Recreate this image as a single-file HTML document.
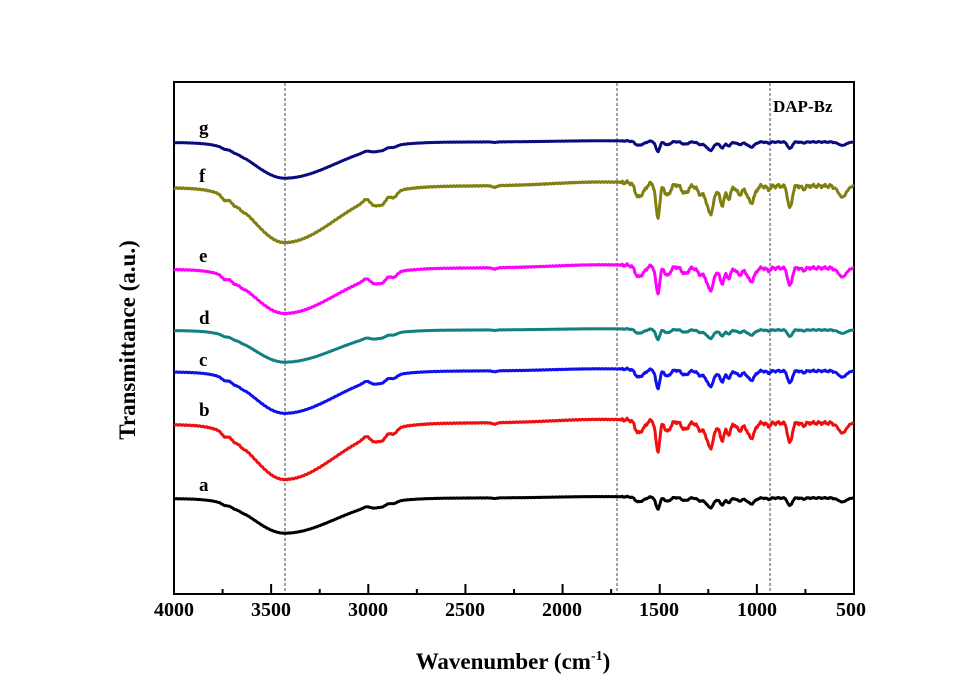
<!DOCTYPE html>
<html><head><meta charset="utf-8"><style>
html,body{margin:0;padding:0;background:#fff;}
svg text{font-family:"Liberation Serif",serif;font-weight:bold;}
</style></head><body>
<svg id="s" width="971" height="691" viewBox="0 0 971 691" xmlns="http://www.w3.org/2000/svg">
<rect x="174" y="82" width="680" height="512" fill="none" stroke="#000" stroke-width="2"/>
<g stroke="#444" stroke-width="1" stroke-dasharray="3,2">
<line x1="285" y1="83" x2="285" y2="593"/>
<line x1="617" y1="83" x2="617" y2="593"/>
<line x1="770" y1="83" x2="770" y2="593"/>
</g>
<g id="ticks" stroke="#000" stroke-width="2"></g>
<g id="curves" fill="none" stroke-width="3" stroke-linejoin="round"></g>
<g font-size="20" text-anchor="middle">
<text x="174" y="616">4000</text><text x="271" y="616">3500</text><text x="368" y="616">3000</text>
<text x="465" y="616">2500</text><text x="562" y="616">2000</text><text x="659" y="616">1500</text>
<text x="757" y="616">1000</text><text x="851" y="616">500</text>
</g>
<g font-size="19">
<text x="199" y="134">g</text><text x="199" y="182">f</text><text x="199" y="262">e</text>
<text x="199" y="324">d</text><text x="199" y="366">c</text><text x="199" y="416">b</text>
<text x="199" y="491">a</text>
<text x="773" y="112" font-size="17">DAP-Bz</text>
</g>
<text x="513" y="669" font-size="23" text-anchor="middle">Wavenumber (cm<tspan dy="-9" font-size="14">-1</tspan><tspan dy="9">)</tspan></text>
<text transform="translate(135,340) rotate(-90)" font-size="23" text-anchor="middle">Transmittance (a.u.)</text>
</svg>
<script>
var X=function(w){return 174+(4000-w)/3500*680;};
var t=document.getElementById('ticks'),h='';
for(var w=4000;w>=500;w-=250){var x=X(w),L=(w%500==0)?10:5;h+='<line x1="'+x+'" y1="594" x2="'+x+'" y2="'+(594-L)+'"/>';}
t.innerHTML=h;
var feats=[[3740,0.15,14],[3690,0.12,14],[3650,0.08,14],[3010,-0.1,15],[2965,0.28,22],[2925,0.3,18],[2870,0.22,18],[2350,0.06,12],
[1610,0.5,16],[1580,0.2,12],[1510,1.2,10],[1460,0.4,14],[1370,0.3,16],[1290,0.3,16],[1240,1.0,18],[1180,0.7,11],[1145,0.45,11],
[1090,0.3,14],[1030,0.6,18],[940,0.12,10],[830,0.8,11],[760,0.1,10],[560,0.4,20]];
function g(w,c,s){var d=(w-c)/s;return Math.exp(-0.5*d*d);}
function tmpl(w,B,F){
 var s=w>3430?160:260;var broad=B*g(w,3430,s);
 var f=0;for(var i=0;i<feats.length;i++)f+=feats[i][1]*g(w,feats[i][0],feats[i][2]);
 var drift=-4*g(w,1800,250)+2*g(w,3900,300);
 var noise=(w<1700&&w>600)?(1.2*Math.sin(w*0.21)+0.8*Math.sin(w*0.53)):0.4*Math.sin(w*0.37);
 return broad+F*(f*28+drift)+noise*F;
}
var cs=[['#0b0b80',142,36,0.3],['#808010',186,56,1],['#ff00ff',268,45,0.8],['#108080',330,32,0.3],['#1010ee',371,42,0.55],['#ee1010',423,56,0.9],['#000',498,35,0.35]];
var out='';
cs.forEach(function(c){var p='';for(var w=4000;w>=500;w-=4){p+=(p?'L':'M')+X(w).toFixed(1)+','+(c[1]+tmpl(w,c[2],c[3])).toFixed(1);}
out+='<path d="'+p+'" stroke="'+c[0]+'"/>';});
document.getElementById('curves').innerHTML=out;
</script>
</body></html>
